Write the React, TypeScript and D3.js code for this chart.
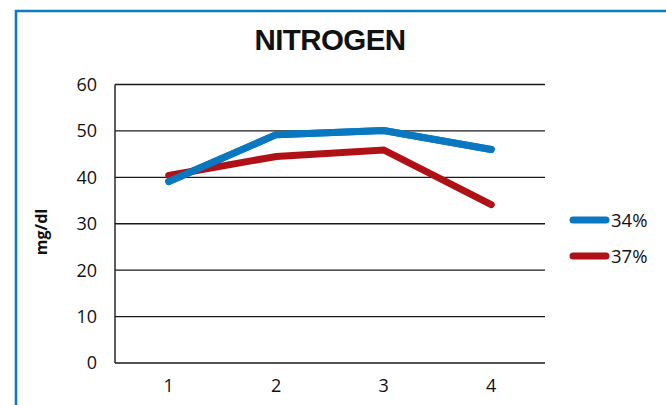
import React from "react";
import * as d3 from "d3";

// Nitrogen readings (mg/dl) per sample, for two concentrations
const categories = ["1", "2", "3", "4"];
const series34 = [39.1, 49.2, 50.1, 46.0];
const series37 = [40.4, 44.5, 45.9, 34.1];
const seriesNames = ["34%", "37%"];
const seriesColors = ["#0a77c1", "#b01117"];
const yTicks = [0, 10, 20, 30, 40, 50, 60];
const title = "NITROGEN";
const yLabel = "mg/dl";

const W = 666;
const H = 405;
const plot = { left: 115, right: 545, top: 84.5, bottom: 363 };
const font = "'Open Sans', 'Noto Sans', sans-serif";

export default function App() {
  const x = d3
    .scaleBand<string>()
    .domain(categories)
    .range([plot.left, plot.right]);
  const y = d3.scaleLinear().domain([0, 60]).range([plot.bottom, plot.top]);

  const line = d3
    .line<number>()
    .x((_, i) => (x(categories[i]) as number) + x.bandwidth() / 2)
    .y((d) => y(d));

  const allSeries = [series34, series37];

  return (
    <svg
      width={W}
      height={H}
      style={{ position: "fixed", left: 0, top: 0, background: "#fff" }}
    >
      {/* frame */}
      <path
        d={`M16,${H + 5} V11 H${W + 5}`}
        fill="none"
        stroke="#0a7bc6"
        strokeWidth={2.6}
      />

      <text
        x={330}
        y={50}
        textAnchor="middle"
        fontFamily="'Liberation Sans', Arial, sans-serif"
        fontWeight="bold"
        fontSize={29.5}
        fill="#111"
        style={{ letterSpacing: "-0.6px" }}
      >
        {title}
      </text>

      {/* gridlines */}
      {yTicks.map((t) => (
        <line
          key={t}
          x1={plot.left}
          x2={plot.right}
          y1={y(t)}
          y2={y(t)}
          stroke="#1a1a1a"
          strokeWidth={1.4}
        />
      ))}
      <line
        x1={plot.left}
        x2={plot.left}
        y1={plot.top}
        y2={plot.bottom}
        stroke="#1a1a1a"
        strokeWidth={1.4}
      />

      {/* y tick labels */}
      {yTicks.map((t) => (
        <text
          key={t}
          x={97}
          y={y(t)}
          dy="0.36em"
          textAnchor="end"
          fontFamily={font}
          fontSize={18}
          fill="#111"
        >
          {t}
        </text>
      ))}

      {/* x tick labels */}
      {categories.map((c) => (
        <text
          key={c}
          x={(x(c) as number) + x.bandwidth() / 2}
          y={392}
          textAnchor="middle"
          fontFamily={font}
          fontSize={18}
          fill="#111"
        >
          {c}
        </text>
      ))}

      <text
        transform={`translate(47,232) rotate(-90)`}
        textAnchor="middle"
        fontFamily={font}
        fontWeight="bold"
        fontSize={16}
        fill="#111"
      >
        {yLabel}
      </text>

      {/* series lines */}
      {allSeries.map((s, i) => (
        <path
          key={i}
          d={line(s) || ""}
          fill="none"
          stroke={seriesColors[i]}
          strokeWidth={7}
          strokeLinecap="round"
          strokeLinejoin="miter"
        />
      ))}
      {/* redraw first series on top where they cross at the start */}
      <path
        d={line(series34) || ""}
        fill="none"
        stroke={seriesColors[0]}
        strokeWidth={7}
        strokeLinecap="round"
      />

      {/* legend */}
      {seriesNames.map((n, i) => (
        <g key={n} transform={`translate(0,${220 + i * 36})`}>
          <line
            x1={573}
            x2={606}
            y1={0}
            y2={0}
            stroke={seriesColors[i]}
            strokeWidth={7}
            strokeLinecap="round"
          />
          <text
            x={611}
            y={0}
            dy="0.36em"
            fontFamily={font}
            fontSize={18.5}
            fill="#111"
          >
            {n}
          </text>
        </g>
      ))}
    </svg>
  );
}
